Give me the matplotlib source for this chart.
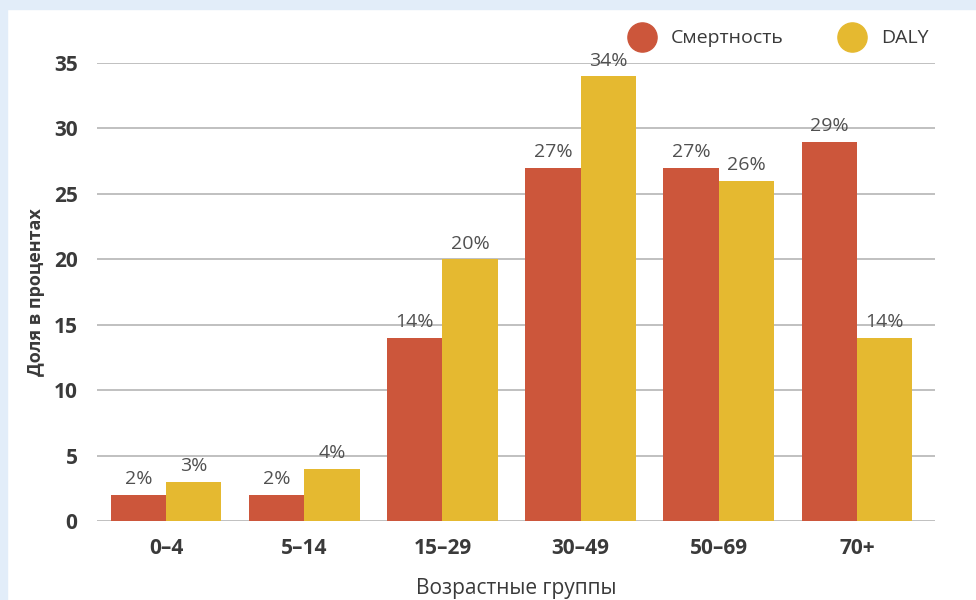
import matplotlib
matplotlib.use("Agg")
import matplotlib.pyplot as plt
from matplotlib.patches import Rectangle
from matplotlib.lines import Line2D
import numpy as np

categories = ["0–4", "5–14", "15–29", "30–49", "50–69", "70+"]
mortality = [2, 2, 14, 27, 27, 29]
daly = [3, 4, 20, 34, 26, 14]
yticks = [0, 5, 10, 15, 20, 25, 30, 35]
series_names = ["Смертность", "DALY"]

plt.rcParams['font.family'] = ["Open Sans", "DejaVu Sans"]

RED = "#cc563b"
YEL = "#e5b930"
TXT = "#3a3a3a"
LBL = "#505050"

fig = plt.figure(figsize=(9.76, 6.0), dpi=100)
fig.patch.set_facecolor("white")
# light blue frame (page background)
fig.add_artist(Rectangle((0, 0), 7/976, 1, transform=fig.transFigure, color="#e2edf9", zorder=0))
fig.add_artist(Rectangle((0, 1 - 9/600), 1, 9/600, transform=fig.transFigure, color="#e2edf9", zorder=0))

ax = fig.add_axes([97/976, 1 - 521/600, (935 - 97)/976, (521 - 63)/600])
ax.set_facecolor("none")
x = np.arange(len(categories))
w = 0.4
ax.bar(x - w/2, mortality, w, color=RED, zorder=3)
ax.bar(x + w/2, daly, w, color=YEL, zorder=3)

for xi, v in zip(x, mortality):
    ax.text(xi - w/2, v + 0.5, f"{v}%", ha="center", va="bottom", fontsize=14, color=LBL)
for xi, v in zip(x, daly):
    ax.text(xi + w/2, v + 0.5, f"{v}%", ha="center", va="bottom", fontsize=14, color=LBL)

ax.set_xlim(-0.5, 5.565)
ax.set_ylim(0, 35)
ax.set_yticks(yticks)
ax.set_yticklabels([str(t) for t in yticks], fontsize=15, color=TXT, fontweight="bold")
ax.set_xticks(x)
ax.set_xticklabels(categories, fontsize=15, color=TXT, fontweight="bold")
ax.yaxis.grid(True, color="#b5b5b5", linewidth=1.2, zorder=0)
ax.set_axisbelow(True)
for s in ax.spines.values():
    s.set_visible(False)
ax.tick_params(axis="both", length=0)
ax.tick_params(axis="y", pad=14)
ax.tick_params(axis="x", pad=12)
ax.set_ylabel("Доля в процентах", fontsize=13, color=TXT, fontweight="bold", labelpad=6)
ax.set_xlabel("Возрастные группы", fontsize=15, color=TXT, labelpad=14)

handles = [Line2D([], [], marker="o", linestyle="none", markersize=21, color=RED),
           Line2D([], [], marker="o", linestyle="none", markersize=21, color=YEL)]
fig.legend(handles, series_names, loc="upper right", bbox_to_anchor=(946/976, 1 - 12/600),
           ncol=2, frameon=False, fontsize=14, handletextpad=0.5, columnspacing=2.5,
           labelcolor=TXT)

fig.savefig("out.png", dpi=100, facecolor="white")
